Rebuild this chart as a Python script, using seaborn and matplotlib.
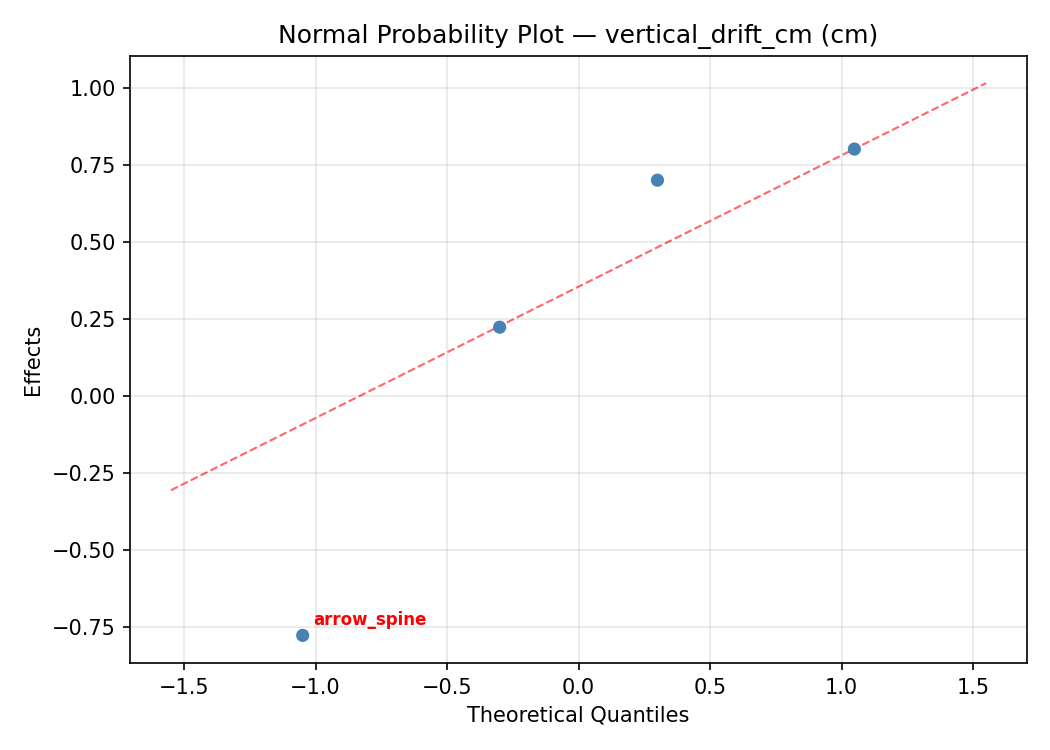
import matplotlib
matplotlib.use("Agg")
import matplotlib.pyplot as plt
import seaborn as sns
import pandas as pd

# Data
quantiles = [-1.049, -0.300, 0.300, 1.049]
effects = [-0.776, 0.224, 0.701, 0.802]
labels = ["arrow_spine", "", "", ""]
line_x = [-1.55, 1.55]
line_y = [-0.305, 1.016]

df = pd.DataFrame({"q": quantiles, "e": effects, "lab": labels})
ref = pd.DataFrame({"x": line_x, "y": line_y})

fig, ax = plt.subplots(figsize=(7, 5), dpi=150)
fig.subplots_adjust(left=0.124, right=0.978, top=0.926, bottom=0.116)

sns.lineplot(data=ref, x="x", y="y", ax=ax, color="red", alpha=0.6,
             linestyle="--", linewidth=1, zorder=2)
sns.scatterplot(data=df, x="q", y="e", ax=ax, color="#4682b4", s=40,
                edgecolor="none", zorder=3)

for _, r in df.iterrows():
    if r["lab"]:
        ax.annotate(r["lab"], (r["q"], r["e"]), xytext=(5, 5),
                    textcoords="offset points", color="red",
                    fontsize=8, fontweight="bold")

ax.grid(True, alpha=0.3)
ax.set_axisbelow(True)
ax.set_title("Normal Probability Plot — vertical_drift_cm (cm)", fontsize=12)
ax.set_xlabel("Theoretical Quantiles")
ax.set_ylabel("Effects")

fig.savefig("out.png", dpi=150)
